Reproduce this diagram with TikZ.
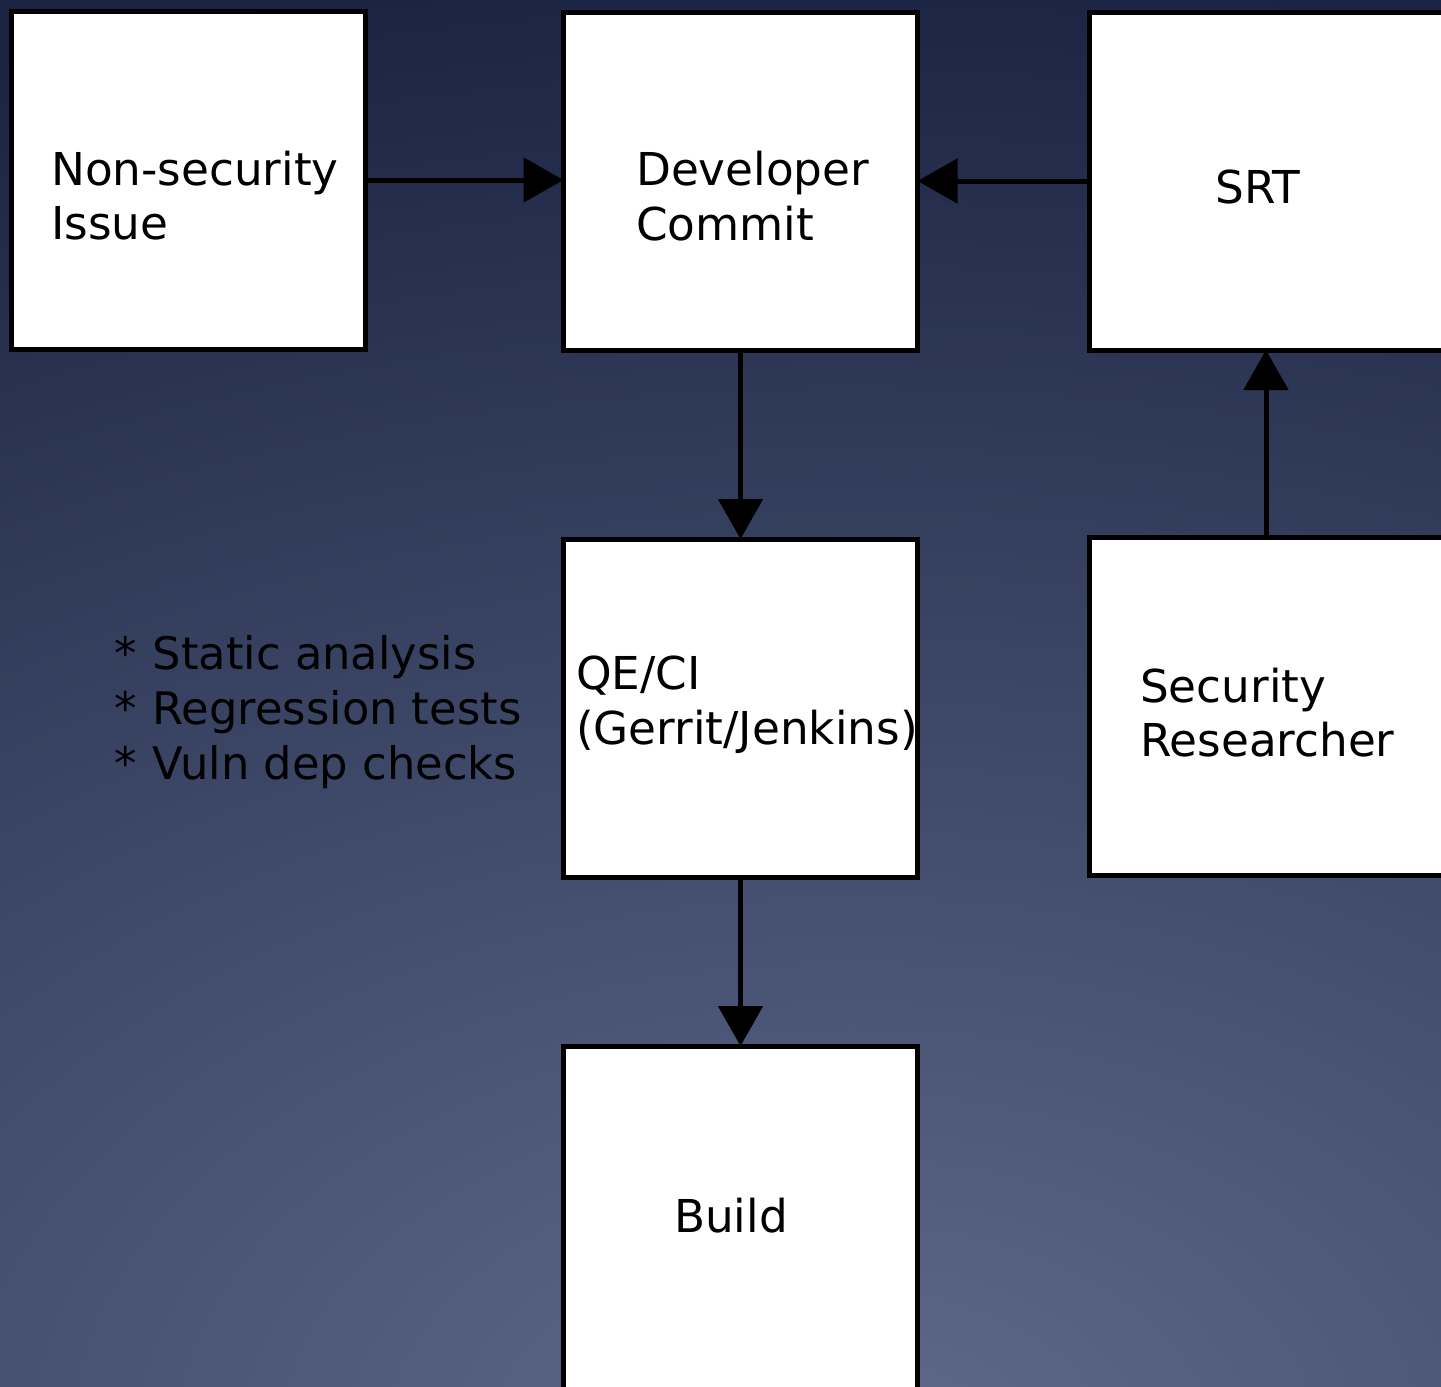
\documentclass[tikz,border=0pt]{standalone}
\usepackage{fontspec}
\setmainfont{DejaVu Sans}
\usetikzlibrary{arrows.meta}

\definecolor{bginner}{HTML}{5F6A8B}
\definecolor{bgouter}{HTML}{1A2341}
% the path edge sits at 25bp of the shading square
\pgfdeclareradialshading{bgglow}{\pgfpoint{0bp}{0bp}}{color(0bp)=(bginner); color(25bp)=(bgouter); color(50bp)=(bgouter)}

\begin{document}
\begin{tikzpicture}[x=1pt,y=-1pt,
  stage/.style={draw=black, fill=white, line width=5pt, rectangle,
    minimum width=354pt, minimum height=338pt, inner sep=0pt, outer sep=0pt},
  caption/.style={font=\fontsize{45.3}{54}\selectfont, text=black,
    anchor=base west, inner sep=0pt, align=left},
  check/.style={caption, font=\fontsize{44.8}{54}\selectfont},
  flow/.style={line width=5pt, -{Triangle[length=40pt,width=44pt]}}
]
% page frame and background glow
\useasboundingbox (0,0) rectangle (1441,1387);
\clip (0,0) rectangle (1441,1387);
\fill[bgouter] (0,0) rectangle (1441,1387);
\shade[shading=bgglow] (850,1450) ellipse [x radius=2400, y radius=1500];

% process boxes
\node[stage] (ns)    at (188.5,180) {};
\node[stage] (dev)   at (740.5,181) {};
\node[stage] (srt)   at (1266,181) {};
\node[stage] (qe)    at (740.5,708) {};
\node[stage] (sr)    at (1266,706) {};
\node[stage, minimum height=350pt] (build) at (740.5,1221) {};

% box texts
\node[caption] (nsT1)  at (51,185)   {Non-security};
\node[caption] (nsT2)  at (51,239)   {Issue};
\node[caption] (devT1) at (636,185)  {Developer};
\node[caption] (devT2) at (636,240)  {Commit};
\node[caption, anchor=base] (srtT) at (1258,203) {SRT};
\node[caption] (qeT1)  at (576,689)  {QE/CI};
\node[caption] (qeT2)  at (576,744)  {(Gerrit/Jenkins)};
\node[caption] (srT1)  at (1140,702) {Security};
\node[caption] (srT2)  at (1140,756) {Researcher};
\node[caption, anchor=base] (buildT) at (731,1232) {Build};

% checks performed by QE/CI
\node[check] (chk1) at (114,669) {*\kern0.36em Static analysis};
\node[check] (chk2) at (114,724) {*\kern0.36em Regression tests};
\node[check] (chk3) at (114,779) {*\kern0.36em Vuln dep checks};

% connectors
\draw[flow] (ns.east) -- (ns.east -| dev.west);
\draw[flow] (srt.west) -- (srt.west -| dev.east);
\draw[flow] (dev.south) -- (qe.north);
\draw[flow] (qe.south) -- (build.north);
\draw[flow] (sr.north) -- (srt.south);
\end{tikzpicture}
\end{document}
